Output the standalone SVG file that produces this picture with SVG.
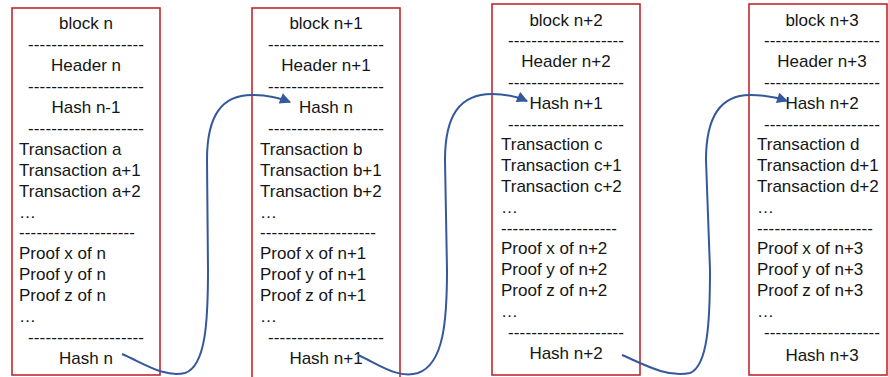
<svg xmlns="http://www.w3.org/2000/svg" width="888" height="377" viewBox="0 0 888 377">
<defs>
<style>
.box{fill:#fff;stroke:#c0282d;stroke-width:1.6}
text{font-family:"Liberation Sans",Arial,sans-serif;font-size:17px;fill:#151515}
.c{text-anchor:middle}
.d{text-anchor:middle}
.conn{fill:none;stroke:#34589c;stroke-width:2}
</style>
<marker id="ah" viewBox="0 0 10 10" refX="9" refY="5" markerWidth="6" markerHeight="5.5" orient="auto" markerUnits="strokeWidth">
<path d="M0,0 L10,5 L0,10 z" fill="#34589c"/>
</marker>
</defs>
<rect width="888" height="377" fill="#fff"/>

<g id="block-n">
<rect class="box" x="12" y="8" width="148" height="367"/>
<text class="c" x="86" y="29">block n</text>
<text class="d" x="86" y="49.9" textLength="116" lengthAdjust="spacing">--------------------</text>
<text class="c" x="86" y="70.9">Header n</text>
<text class="d" x="86" y="91.8" textLength="116" lengthAdjust="spacing">--------------------</text>
<text class="c" x="86" y="112.8">Hash n-1</text>
<text class="d" x="86" y="133.7" textLength="116" lengthAdjust="spacing">--------------------</text>
<text x="19" y="154.6">Transaction a</text>
<text x="19" y="175.6">Transaction a+1</text>
<text x="19" y="196.5">Transaction a+2</text>
<text x="19" y="217.5">…</text>
<text x="19" y="238.4" textLength="116" lengthAdjust="spacing">--------------------</text>
<text x="19" y="259.3">Proof x of n</text>
<text x="19" y="280.3">Proof y of n</text>
<text x="19" y="301.2">Proof z of n</text>
<text x="19" y="322.2">…</text>
<text class="d" x="86" y="343.1" textLength="116" lengthAdjust="spacing">--------------------</text>
<text class="c" x="86" y="364">Hash n</text>
</g>

<g id="block-n1">
<rect class="box" x="252" y="8" width="148" height="380"/>
<text class="c" x="326" y="29">block n+1</text>
<text class="d" x="326" y="49.9" textLength="116" lengthAdjust="spacing">--------------------</text>
<text class="c" x="326" y="70.9">Header n+1</text>
<text class="d" x="326" y="91.8" textLength="116" lengthAdjust="spacing">--------------------</text>
<text class="c" x="326" y="112.8">Hash n</text>
<text class="d" x="326" y="133.7" textLength="116" lengthAdjust="spacing">--------------------</text>
<text x="260" y="154.6">Transaction b</text>
<text x="260" y="175.6">Transaction b+1</text>
<text x="260" y="196.5">Transaction b+2</text>
<text x="260" y="217.5">…</text>
<text x="260" y="238.4" textLength="116" lengthAdjust="spacing">--------------------</text>
<text x="260" y="259.3">Proof x of n+1</text>
<text x="260" y="280.3">Proof y of n+1</text>
<text x="260" y="301.2">Proof z of n+1</text>
<text x="260" y="322.2">…</text>
<text class="d" x="326" y="343.1" textLength="116" lengthAdjust="spacing">--------------------</text>
<text class="c" x="326" y="364">Hash n+1</text>
</g>

<g id="block-n2">
<rect class="box" x="492" y="4" width="148" height="371"/>
<text class="c" x="566" y="25.5">block n+2</text>
<text class="d" x="566" y="46.3" textLength="116" lengthAdjust="spacing">--------------------</text>
<text class="c" x="566" y="67.1">Header n+2</text>
<text class="d" x="566" y="87.9" textLength="116" lengthAdjust="spacing">--------------------</text>
<text class="c" x="566" y="108.7">Hash n+1</text>
<text class="d" x="566" y="129.5" textLength="116" lengthAdjust="spacing">--------------------</text>
<text x="501" y="150.3">Transaction c</text>
<text x="501" y="171.1">Transaction c+1</text>
<text x="501" y="191.9">Transaction c+2</text>
<text x="501" y="212.7">…</text>
<text x="501" y="233.5" textLength="116" lengthAdjust="spacing">--------------------</text>
<text x="501" y="254.3">Proof x of n+2</text>
<text x="501" y="275.1">Proof y of n+2</text>
<text x="501" y="295.9">Proof z of n+2</text>
<text x="501" y="316.7">…</text>
<text class="d" x="566" y="337.5" textLength="116" lengthAdjust="spacing">--------------------</text>
<text class="c" x="566" y="358.5">Hash n+2</text>
</g>

<g id="block-n3">
<rect class="box" x="749" y="4" width="138" height="371"/>
<text class="c" x="822" y="25.5">block n+3</text>
<text class="d" x="822" y="46.3" textLength="116" lengthAdjust="spacing">--------------------</text>
<text class="c" x="822" y="67.1">Header n+3</text>
<text class="d" x="822" y="87.9" textLength="116" lengthAdjust="spacing">--------------------</text>
<text class="c" x="822" y="108.7">Hash n+2</text>
<text class="d" x="822" y="129.5" textLength="116" lengthAdjust="spacing">--------------------</text>
<text x="757" y="150.3">Transaction d</text>
<text x="757" y="171.1">Transaction d+1</text>
<text x="757" y="191.9">Transaction d+2</text>
<text x="757" y="212.7">…</text>
<text x="757" y="233.5" textLength="116" lengthAdjust="spacing">--------------------</text>
<text x="757" y="254.3">Proof x of n+3</text>
<text x="757" y="275.1">Proof y of n+3</text>
<text x="757" y="295.9">Proof z of n+3</text>
<text x="757" y="316.7">…</text>
<text class="d" x="822" y="337.5" textLength="116" lengthAdjust="spacing">--------------------</text>
<text class="c" x="822" y="360.5">Hash n+3</text>
</g>

<g id="connectors">
<path class="conn" marker-end="url(#ah)" d="M122,354 C145,364 165,378 185,373 C206,366 208,320 208,270 L207,160 C207,115 222,95 252,95 C268,95 280,98 290,102"/>
<path class="conn" marker-end="url(#ah)" d="M358,355 C380,365 398,379 418,373 C444,364 447,320 447,270 L445,160 C445,115 460,94 492,94 C508,94 518,97 527,101"/>
<path class="conn" marker-end="url(#ah)" d="M622,355 C645,365 668,378 690,373 C708,366 710,320 710,270 L706,160 C706,115 722,95 750,95 C766,95 778,98 787,101"/>
</g>
</svg>
